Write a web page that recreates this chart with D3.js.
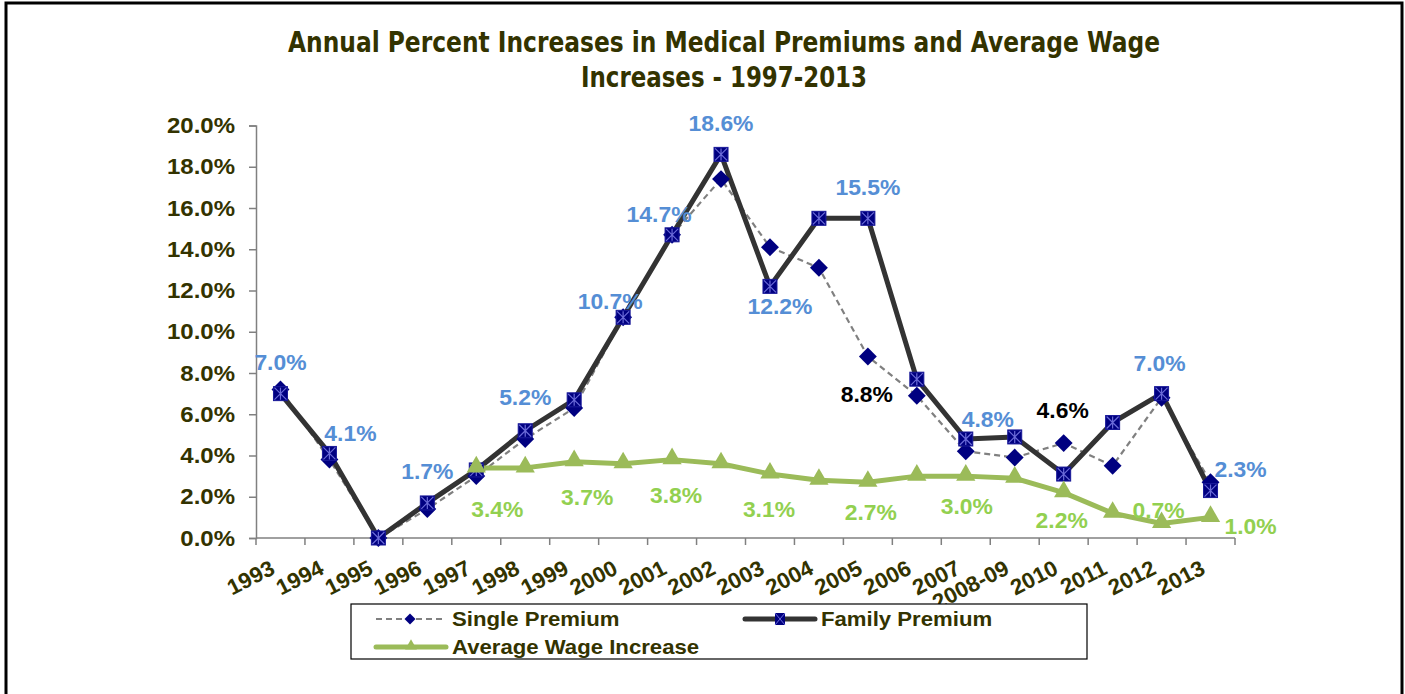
<!DOCTYPE html>
<html>
<head>
<meta charset="utf-8">
<script src="https://cdn.jsdelivr.net/npm/d3@7.9.0/dist/d3.min.js"></script>
<style>
  body { margin: 0; background: #fff; }
  svg { display: block; }
  text { font-family: "Liberation Sans", Arial, sans-serif; font-weight: bold; }
</style>
</head>
<body>
<svg id="chart" width="1405" height="694"></svg>
<script>
const categories = ['1993', '1994', '1995', '1996', '1997', '1998', '1999', '2000', '2001', '2002',
  '2003', '2004', '2005', '2006', '2007', '2008-09', '2010', '2011', '2012', '2013'];
const singlePremium = [7.2, 3.8, 0.0, 1.4, 3.0, 4.8, 6.3, 10.7, 14.7, 17.4,
  14.1, 13.1, 8.8, 6.9, 4.2, 3.9, 4.6, 3.5, 6.8, 2.7];
const familyPremium = [7.0, 4.1, 0.0, 1.7, 3.3, 5.2, 6.7, 10.7, 14.7, 18.6,
  12.2, 15.5, 15.5, 7.7, 4.8, 4.9, 3.1, 5.6, 7.0, 2.3];
const wageIncrease = [null, null, null, null, 3.4, 3.4, 3.7, 3.6, 3.8, 3.6,
  3.1, 2.8, 2.7, 3.0, 3.0, 2.9, 2.2, 1.2, 0.7, 1.0];
const yTicks = [0, 2, 4, 6, 8, 10, 12, 14, 16, 18, 20];
const titleLines = ['Annual Percent Increases in Medical Premiums and Average Wage', 'Increases - 1997-2013'];

// which points carry a data label, and where the label sits relative to the point
const familyLabels = [[0, 0, -32], [1, 21, -20], [3, 0, -32], [5, 0, -34], [7, -13, -16], [8, -13, -21],
  [9, 0, -31], [10, 10, 20], [12, 0, -31], [14, 22, -20], [18, -2, -31], [19, 30, -22]];
const singleLabels = [[12, -1, 37], [16, -1, -33]];
const wageLabels = [[4, 21, 41], [6, 13, 35], [8, 4, 35], [10, -1, 35], [12, 3, 30], [14, 1, 30],
  [16, -2, 27], [18, -3, -14], [19, 40, 9]];

const olive = '#333300';
const svg = d3.select('#chart');

// the original text is a little wider than Liberation Sans at the same height
function stretch(sel, k) {
  sel.each(function () {
    const w = this.getComputedTextLength();
    d3.select(this).attr('textLength', w * k).attr('lengthAdjust', 'spacingAndGlyphs');
  });
}

// outer frame
svg.append('rect').attr('x', 6).attr('y', 3).attr('width', 1396).attr('height', 700)
  .attr('fill', 'none').attr('stroke', '#000').attr('stroke-width', 3);

const plotLeft = 256, plotRight = 1235, plotTop = 125.5, plotBottom = 538;

const x = d3.scaleBand().domain(categories).range([plotLeft, plotRight]);
const y = d3.scaleLinear().domain([0, 20]).range([plotBottom, plotTop]);
const cx = (i) => x(categories[i]) + x.bandwidth() / 2;

// title
svg.selectAll('.title').data(titleLines).join('text')
  .attr('class', 'title')
  .attr('x', 724).attr('y', (d, i) => 52 + i * 35)
  .attr('text-anchor', 'middle')
  .attr('fill', olive)
  .style('font-family', '"Liberation Sans Narrow", "DejaVu Sans Condensed", sans-serif')
  .style('font-size', '28px')
  .attr('textLength', (d, i) => i === 0 ? 872 : 286)
  .attr('lengthAdjust', 'spacingAndGlyphs')
  .text((d) => d);

// y axis
const yAxis = svg.append('g').attr('transform', `translate(${plotLeft},0)`)
  .call(d3.axisLeft(y).tickValues(yTicks).tickSize(7).tickPadding(14).tickFormat((d) => d.toFixed(1) + '%'));
yAxis.select('.domain').attr('stroke', '#808080').attr('stroke-width', 1.5);
yAxis.selectAll('.tick line').attr('stroke', '#808080').attr('stroke-width', 1.5);
yAxis.selectAll('.tick text').attr('fill', olive).style('font-size', '22px')
  .style('font-family', '"Liberation Sans", Arial, sans-serif').style('font-weight', 'bold')
  .call(stretch, 1.09);

// x axis (ticks at category boundaries)
const xAxisG = svg.append('g');
xAxisG.append('line').attr('x1', plotLeft).attr('x2', plotRight).attr('y1', plotBottom).attr('y2', plotBottom)
  .attr('stroke', '#808080').attr('stroke-width', 1.5);
xAxisG.selectAll('.xt').data(categories.concat(['end'])).join('line')
  .attr('x1', (d, i) => i < categories.length ? x(d) : plotRight)
  .attr('x2', (d, i) => i < categories.length ? x(d) : plotRight)
  .attr('y1', plotBottom).attr('y2', plotBottom + 7)
  .attr('stroke', '#808080').attr('stroke-width', 1.5);
xAxisG.selectAll('.xl').data(categories).join('text')
  .attr('transform', (d, i) => `translate(${cx(i) - 4},573) rotate(-27)`)
  .attr('text-anchor', 'end')
  .attr('fill', olive)
  .style('font-size', '22px')
  .text((d) => d)
  .call(stretch, 1.02);

// lines
const lineGen = d3.line()
  .defined((d) => d != null)
  .x((d, i) => cx(i))
  .y((d) => y(d));

svg.append('path').datum(singlePremium).attr('d', lineGen)
  .attr('fill', 'none').attr('stroke', '#808080').attr('stroke-width', 2.2).attr('stroke-dasharray', '6,4');
svg.append('path').datum(familyPremium).attr('d', lineGen)
  .attr('fill', 'none').attr('stroke', '#333333').attr('stroke-width', 5).attr('stroke-linejoin', 'round');
svg.append('path').datum(wageIncrease).attr('d', lineGen)
  .attr('fill', 'none').attr('stroke', '#9BBB59').attr('stroke-width', 5).attr('stroke-linejoin', 'round');

// markers
const diamond = d3.symbol().type(d3.symbolSquare).size(160)();
svg.selectAll('.diamond').data(singlePremium).join('path')
  .attr('d', diamond)
  .attr('transform', (d, i) => `translate(${cx(i)},${y(d)}) rotate(45)`)
  .attr('fill', '#000080');

const sq = svg.selectAll('.sq').data(familyPremium).join('g')
  .attr('transform', (d, i) => `translate(${cx(i)},${y(d)})`);
sq.append('rect').attr('x', -7).attr('y', -7).attr('width', 14).attr('height', 14)
  .attr('fill', '#000080').attr('stroke', '#1a1a9a').attr('stroke-width', 1);
sq.append('path').attr('d', 'M-6,-6L6,6M6,-6L-6,6M0,-6L0,6')
  .attr('stroke', '#6a6ad8').attr('stroke-width', 1.2);

const tri = d3.symbol().type(d3.symbolTriangle).size(160)();
svg.selectAll('.tri').data(wageIncrease.map((v, i) => [v, i]).filter((d) => d[0] != null)).join('path')
  .attr('d', tri)
  .attr('transform', (d) => `translate(${cx(d[1])},${y(d[0]) - 1})`)
  .attr('fill', '#9BBB59');

// data labels
function addLabels(series, specs, color) {
  svg.selectAll(null).data(specs).join('text')
    .attr('x', (d) => cx(d[0]) + d[1])
    .attr('y', (d) => y(series[d[0]]) + d[2] + 8)
    .attr('text-anchor', 'middle')
    .attr('fill', color)
    .style('font-size', '22px')
    .text((d) => series[d[0]].toFixed(1) + '%')
    .call(stretch, 1.04);
}
addLabels(familyPremium, familyLabels, '#558ED5');
addLabels(singlePremium, singleLabels, '#000000');
addLabels(wageIncrease, wageLabels, '#92D050');

// legend
const legend = svg.append('g');
legend.append('rect').attr('x', 351).attr('y', 604).attr('width', 736).attr('height', 55)
  .attr('fill', '#fff').attr('stroke', '#000').attr('stroke-width', 1.2);

const legendItems = [
  { name: 'Single Premium', lx: 376, ly: 619 },
  { name: 'Family Premium', lx: 745, ly: 619 },
  { name: 'Average Wage Increase', lx: 376, ly: 647 }
];
// single
legend.append('line').attr('x1', 376).attr('x2', 444).attr('y1', 619).attr('y2', 619)
  .attr('stroke', '#808080').attr('stroke-width', 2.2).attr('stroke-dasharray', '6,4');
legend.append('path').attr('d', d3.symbol().type(d3.symbolSquare).size(60)())
  .attr('transform', 'translate(410,619) rotate(45)').attr('fill', '#000080');
// family
legend.append('line').attr('x1', 745).attr('x2', 815).attr('y1', 619).attr('y2', 619)
  .attr('stroke', '#333333').attr('stroke-width', 5).attr('stroke-linecap', 'round');
legend.append('rect').attr('x', 775).attr('y', 613).attr('width', 10).attr('height', 12).attr('fill', '#000080');
legend.append('path').attr('d', 'M775,613L785,625M785,613L775,625').attr('stroke', '#6a6ad8').attr('stroke-width', 1);
// wage
legend.append('line').attr('x1', 376).attr('x2', 446).attr('y1', 647).attr('y2', 647)
  .attr('stroke', '#9BBB59').attr('stroke-width', 5).attr('stroke-linecap', 'round');
legend.append('path').attr('d', d3.symbol().type(d3.symbolTriangle).size(60)())
  .attr('transform', 'translate(411,646)').attr('fill', '#9BBB59');

legend.selectAll('.lt').data(legendItems).join('text')
  .attr('x', (d) => d.lx + 76)
  .attr('y', (d) => d.ly + 7)
  .attr('fill', olive)
  .style('font-size', '21px')
  .text((d) => d.name)
  .call(stretch, 1.055);
</script>
</body>
</html>
